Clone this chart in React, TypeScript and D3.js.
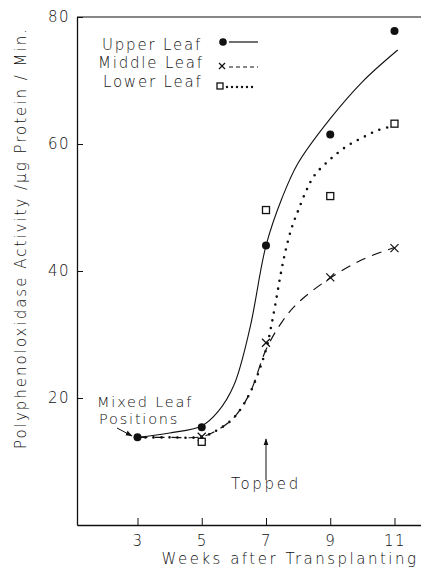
import React, { useEffect, useRef } from "react";
import * as d3 from "d3";

// ---- data ----
const xTickValues = [3, 5, 7, 9, 11];
const yTickValues = [20, 40, 60, 80];

// measured points (week 3 is the mixed-leaf sample shared by all series)
const mixedWeek = 3;
const mixedValue = 13.8;
const pointWeeks = [5, 7, 9, 11];
const upperValues = [15.4, 44, 61.5, 77.8];
const middleValues = [13.9, 28.7, 39, 43.6];
const lowerValues = [13.1, 49.6, 51.8, 63.2];

// fitted curves
const upperCurveWeeks = [3, 4, 5, 5.5, 6, 6.5, 7, 7.5, 8, 9, 10, 11.1];
const upperCurveValues = [13.8, 14.5, 15.6, 17.8, 22, 31, 44, 51.5, 57, 64, 69.8, 74.8];

const middleCurveWeeks = [3, 4, 5, 5.5, 6, 6.5, 7, 7.5, 8, 9, 10, 11];
const middleCurveValues = [13.8, 13.8, 13.9, 15, 16.9, 20.8, 27.6, 32, 35, 38.9, 41.8, 43.7];

const lowerCurveWeeks = [3, 4, 5, 5.5, 6, 6.5, 7, 7.15, 7.3, 7.45, 7.6, 7.8, 8, 8.25, 8.5, 9, 9.5, 10, 10.5, 11.1];
const lowerCurveValues = [13.8, 13.8, 13.9, 15, 16.9, 20.8, 27.6, 31, 35, 39.3, 43, 46.8, 49.5, 52.6, 55, 57.6, 59.6, 61, 62.2, 63];

const legendLabels = ["Upper Leaf", "Middle Leaf", "Lower Leaf"];

const FONT = "'DejaVu Sans', sans-serif";
const W = 421;
const H = 580;

export default function App() {
  const xAxisRef = useRef<SVGGElement>(null);
  const yAxisRef = useRef<SVGGElement>(null);

  const x = d3.scaleLinear().domain([1.117, 11.825]).range([77, 421]);
  const y = d3.scaleLinear().domain([0, 80]).range([525, 17]);

  useEffect(() => {
    const gx = d3.select(xAxisRef.current as SVGGElement);
    gx.call(
      d3.axisBottom(x).tickValues(xTickValues).tickSizeInner(-7).tickSizeOuter(0).tickPadding(10).tickFormat(d3.format("d"))
    );
    gx.select(".domain").attr("stroke", "#111").attr("stroke-width", 1.3);
    gx.selectAll(".tick line").attr("stroke", "#111").attr("stroke-width", 1);
    gx.selectAll(".tick text")
      .attr("font-family", FONT)
      .attr("font-size", 15)
      .attr("font-weight", 300)
      .attr("letter-spacing", 1.5)
      .attr("fill", "#111");

    const gy = d3.select(yAxisRef.current as SVGGElement);
    gy.call(
      d3.axisLeft(y).tickValues(yTickValues).tickSizeInner(-6).tickSizeOuter(0).tickPadding(7).tickFormat(d3.format("d"))
    );
    gy.select(".domain").attr("stroke", "#111").attr("stroke-width", 1.3);
    gy.selectAll(".tick line").attr("stroke", "#111").attr("stroke-width", 1);
    gy.selectAll(".tick text")
      .attr("font-family", FONT)
      .attr("font-size", 15)
      .attr("font-weight", 300)
      .attr("letter-spacing", 1.5)
      .attr("fill", "#111");
  }, []);

  const line = d3
    .line<[number, number]>()
    .x((d) => x(d[0]))
    .y((d) => y(d[1]))
    .curve(d3.curveCatmullRom.alpha(0.5));

  const upperPath = line(upperCurveWeeks.map((w, i) => [w, upperCurveValues[i]]));
  const middlePath = line(middleCurveWeeks.map((w, i) => [w, middleCurveValues[i]]));
  const lowerPath = line(lowerCurveWeeks.map((w, i) => [w, lowerCurveValues[i]]));

  const textStyle = {
    fontFamily: FONT,
    fontSize: 15,
    fontWeight: 300,
    letterSpacing: 1.8,
    fill: "#111",
  } as React.CSSProperties;

  const xMark = (cx: number, cy: number, key: string, s = 4) => (
    <g key={key} stroke="#111" strokeWidth={1.2}>
      <line x1={cx - s} y1={cy - s} x2={cx + s} y2={cy + s} />
      <line x1={cx - s} y1={cy + s} x2={cx + s} y2={cy - s} />
    </g>
  );
  const square = (cx: number, cy: number, key: string, s = 7) => (
    <rect key={key} x={cx - s / 2} y={cy - s / 2} width={s} height={s} fill="#fff" stroke="#111" strokeWidth={1.3} />
  );

  const [x0, x1] = x.range();

  return (
    <svg
      width={W}
      height={H}
      style={{ position: "absolute", left: 0, top: 0, background: "#fff" }}
      xmlns="http://www.w3.org/2000/svg"
    >
      <defs>
        <marker id="arrow" viewBox="0 0 10 10" refX="9" refY="5" markerWidth="7" markerHeight="7" orient="auto-start-reverse">
          <path d="M0,1.5 L10,5 L0,8.5 z" fill="#111" />
        </marker>
      </defs>
      <rect x={0} y={0} width={W} height={H} fill="#fff" />

      {/* top frame line */}
      <line x1={x0} x2={x1} y1={y(80)} y2={y(80)} stroke="#111" strokeWidth={1.1} />

      <g ref={xAxisRef} transform={`translate(0,${y(0)})`} />
      <g ref={yAxisRef} transform={`translate(${x0},0)`} />

      {/* curves */}
      <path d={upperPath || ""} fill="none" stroke="#111" strokeWidth={1.1} />
      <path d={middlePath || ""} fill="none" stroke="#111" strokeWidth={1.2} strokeDasharray="10 7" />
      <path
        d={lowerPath || ""}
        fill="none"
        stroke="#111"
        strokeWidth={2.6}
        strokeDasharray="0 8"
        strokeLinecap="round"
      />

      {/* markers */}
      <circle cx={x(mixedWeek)} cy={y(mixedValue)} r={4} fill="#111" />
      {pointWeeks.map((w, i) => (
        <circle key={"u" + i} cx={x(w)} cy={y(upperValues[i])} r={4} fill="#111" />
      ))}
      {pointWeeks.map((w, i) => xMark(x(w), y(middleValues[i]), "m" + i))}
      {pointWeeks.map((w, i) => square(x(w), y(lowerValues[i]), "l" + i))}

      {/* legend */}
      <text x={102} y={50} style={textStyle}>{legendLabels[0]}</text>
      <text x={98} y={68} style={textStyle}>{legendLabels[1]}</text>
      <text x={103} y={87} style={textStyle}>{legendLabels[2]}</text>
      <circle cx={223} cy={42} r={3.8} fill="#111" />
      <line x1={229} x2={258} y1={42} y2={42} stroke="#111" strokeWidth={1.2} />
      {xMark(222, 66, "lgx", 3)}
      <line x1={229} x2={258} y1={67} y2={67} stroke="#111" strokeWidth={1.2} strokeDasharray="4 3" />
      {square(220, 86, "lgs", 6)}
      <line x1={227} x2={257} y1={87} y2={87} stroke="#111" strokeWidth={2.4} strokeDasharray="0 5" strokeLinecap="round" />

      {/* annotations */}
      <text x={97} y={407} style={{ ...textStyle, fontSize: 14.5 }}>Mixed Leaf</text>
      <text x={99} y={424} style={{ ...textStyle, fontSize: 14.5 }}>Positions</text>
      <line x1={117} y1={428} x2={132} y2={436} stroke="#111" strokeWidth={1} markerEnd="url(#arrow)" />

      <line x1={x(7)} y1={480} x2={x(7)} y2={439} stroke="#111" strokeWidth={1} markerEnd="url(#arrow)" />
      <text x={x(7)} y={489} textAnchor="middle" style={{ ...textStyle, letterSpacing: 2.7 }}>Topped</text>

      {/* axis titles */}
      <text x={290} y={564} textAnchor="middle" style={{ ...textStyle, letterSpacing: 2.5 }}>Weeks after Transplanting</text>
      <text
        transform={`translate(26,238) rotate(-90)`}
        textAnchor="middle"
        style={{ ...textStyle, letterSpacing: 2 }}
      >
        Polyphenoloxidase Activity /μg Protein / Min.
      </text>
    </svg>
  );
}
